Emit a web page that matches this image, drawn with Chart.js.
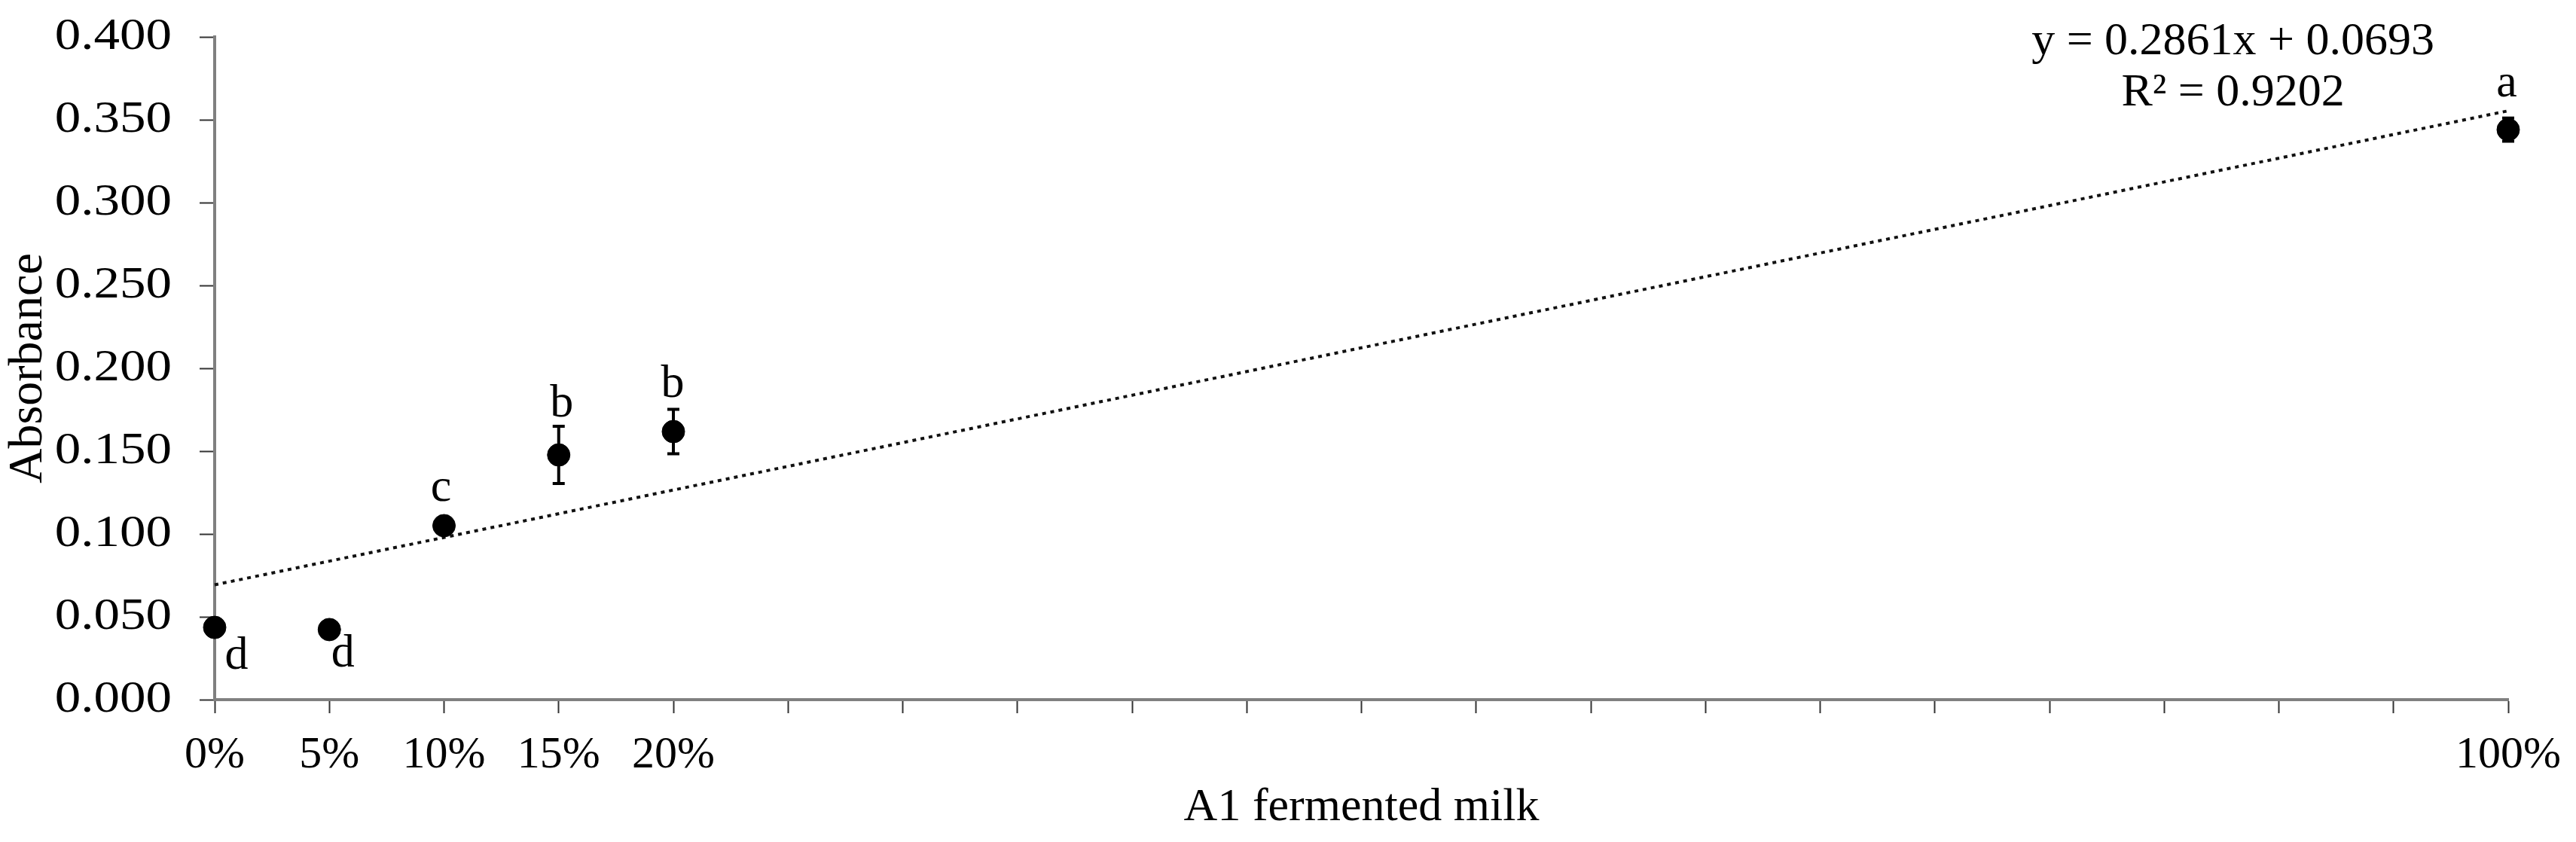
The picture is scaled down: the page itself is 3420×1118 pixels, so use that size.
<!DOCTYPE html>
<html>
<head>
<meta charset="utf-8">
<script src="https://cdn.jsdelivr.net/npm/chart.js@4.4.1/dist/chart.umd.min.js"></script>
<style>
    html, body { margin: 0; padding: 0; background: #fff; }
    #wrap { width: 3420px; height: 1118px; }
</style>
</head>
<body>
<div id="wrap"><canvas id="absChart" width="3420" height="1118"></canvas></div>
<script>
// share of A1 fermented milk (0..1) and measured absorbance
const milkShare = [0, 0.05, 0.10, 0.15, 0.20, 1.00];
const absorbance = [0.0436, 0.0423, 0.1050, 0.1477, 0.1618, 0.3440];
const absorbanceSD = [0.005, 0.002, 0.003, 0.0173, 0.0134, 0.007];
const groupLetters = ['d', 'd', 'c', 'b', 'b', 'a'];

// linear trend line end points (x = 0 and x = 1)
const trendX = [0, 1];
const trendY = [0.0693, 0.3554];
const equationLines = ['y = 0.2861x + 0.0693', 'R\u00B2 = 0.9202'];

const xTickValues = [0, 0.05, 0.10, 0.15, 0.20, 1.00];
const xTickLabels = ['0%', '5%', '10%', '15%', '20%', '100%'];

// where each letter sits relative to its point, in pixels
const letterShift = [[29, 55], [18, 49], [-4, -33], [4, -51], [-1, -46], [-2, -44]];

const serif = '"Liberation Serif", "Times New Roman", serif';

const errorBarsAndText = {
    id: 'errorBarsAndText',
    beforeDatasetsDraw(chart) {
        const ctx = chart.ctx;
        const xs = chart.scales.x, ys = chart.scales.y;
        ctx.save();
        ctx.strokeStyle = '#000';
        ctx.lineWidth = 4;
        milkShare.forEach((v, i) => {
            const px = xs.getPixelForValue(v);
            const top = ys.getPixelForValue(absorbance[i] + absorbanceSD[i]);
            const bot = ys.getPixelForValue(absorbance[i] - absorbanceSD[i]);
            ctx.beginPath();
            ctx.moveTo(px, top); ctx.lineTo(px, bot);
            ctx.moveTo(px - 8, top); ctx.lineTo(px + 8, top);
            ctx.moveTo(px - 8, bot); ctx.lineTo(px + 8, bot);
            ctx.stroke();
        });
        ctx.restore();
    },
    afterDraw(chart) {
        const ctx = chart.ctx;
        const xs = chart.scales.x, ys = chart.scales.y;
        ctx.save();
        ctx.fillStyle = '#000';

        // y tick labels, a little wider than the plain font like the original
        ctx.font = '60px ' + serif;
        ctx.textAlign = 'right';
        ctx.textBaseline = 'middle';
        const labelRight = chart.chartArea.left - 20 - 37;
        ys.ticks.forEach(t => {
            const py = ys.getPixelForValue(t.value);
            ctx.save();
            ctx.translate(labelRight, py);
            ctx.scale(1.15, 1);
            ctx.fillText(t.value.toFixed(3), 0, 0);
            ctx.restore();
        });

        ctx.font = '62px ' + serif;
        ctx.textAlign = 'center';
        ctx.textBaseline = 'alphabetic';
        groupLetters.forEach((txt, i) => {
            const px = xs.getPixelForValue(milkShare[i]);
            const py = ys.getPixelForValue(absorbance[i]);
            ctx.fillText(txt, px + letterShift[i][0], py + letterShift[i][1]);
        });
        // trend line equation, anchored to the data scales
        const ex = xs.getPixelForValue(0.88);
        ctx.fillText(equationLines[0], ex, ys.getPixelForValue(0.3895));
        ctx.fillText(equationLines[1], ex, ys.getPixelForValue(0.3586));
        ctx.restore();
    }
};

const ctx = document.getElementById('absChart').getContext('2d');

new Chart(ctx, {
    type: 'scatter',
    data: {
        datasets: [
            {
                label: 'Absorbance',
                data: milkShare.map((x, i) => ({ x: x, y: absorbance[i] })),
                backgroundColor: '#000',
                borderColor: '#000',
                pointRadius: 15,
                pointHoverRadius: 15,
                clip: false,
                order: 1
            },
            {
                label: 'Linear trend',
                type: 'line',
                data: trendX.map((x, i) => ({ x: x, y: trendY[i] })),
                borderColor: '#111',
                borderWidth: 4,
                borderDash: [5, 6],
                borderCapStyle: 'butt',
                pointRadius: 0,
                fill: false,
                clip: false,
                order: 2
            }
        ]
    },
    options: {
        responsive: false,
        animation: false,
        events: [],
        layout: { padding: { left: 0, right: 90, top: 49, bottom: 0 } },
        plugins: {
            legend: { display: false },
            tooltip: { enabled: false }
        },
        scales: {
            x: {
                type: 'linear',
                min: 0,
                max: 1,
                afterFit: s => { s.height = 189; },
                border: { display: true, color: '#808080', width: 4 },
                grid: { drawOnChartArea: false, drawTicks: true, tickLength: 18, tickColor: '#333', tickWidth: 2 },
                ticks: {
                    stepSize: 0.05,
                    autoSkip: false,
                    maxRotation: 0,
                    padding: 20,
                    color: '#000',
                    font: { family: serif, size: 60 },
                    callback: v => {
                        const i = xTickValues.findIndex(t => Math.abs(t - v) < 1e-6);
                        return i >= 0 ? xTickLabels[i] : '';
                    }
                },
                title: {
                    display: true,
                    text: 'A1 fermented milk',
                    color: '#000',
                    font: { family: serif, size: 62 },
                    padding: { top: 0, bottom: 8 }
                }
            },
            y: {
                min: 0,
                max: 0.4,
                afterFit: s => { s.width = 285; s.paddingTop = 0; s.paddingBottom = 0; },
                border: { display: true, color: '#808080', width: 4 },
                grid: { drawOnChartArea: false, drawTicks: true, tickLength: 20, tickColor: '#333', tickWidth: 2 },
                ticks: {
                    stepSize: 0.05,
                    display: false
                },
                title: {
                    display: true,
                    text: 'Absorbance',
                    color: '#000',
                    font: { family: serif, size: 64 },
                    padding: { top: 0, bottom: 0 }
                }
            }
        }
    },
    plugins: [errorBarsAndText]
});
</script>
</body>
</html>
